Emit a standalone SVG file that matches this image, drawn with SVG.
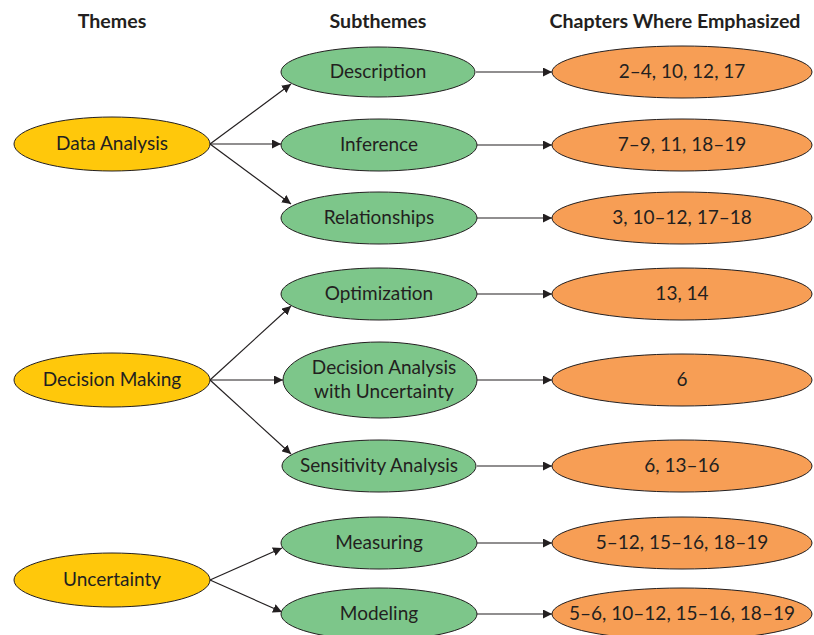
<svg xmlns="http://www.w3.org/2000/svg" width="814" height="635" viewBox="0 0 814 635">
<defs>
<marker id="ah" viewBox="0 0 10 10" refX="10" refY="5" markerWidth="9" markerHeight="9" markerUnits="userSpaceOnUse" orient="auto">
<path d="M0,0 L10,5 L0,10 z" fill="#231F20"/>
</marker>
<style>
.theme{fill:#FFC80B;stroke:#231F20;stroke-width:1}
.sub{fill:#7DC68A;stroke:#231F20;stroke-width:1}
.ch{fill:#F79E55;stroke:#231F20;stroke-width:1}
.t{font-family:Lato,"Open Sans",sans-serif;font-size:19px;fill:#231F20;text-anchor:middle}
.h{font-family:Lato,"Open Sans",sans-serif;font-size:19.6px;font-weight:bold;fill:#231F20;text-anchor:middle}
.c line{stroke:#231F20;stroke-width:1.2;marker-end:url(#ah)}
</style>
</defs>
<rect width="814" height="635" fill="#FFFFFF"/>
<g id="headers">
<text class="h" x="112" y="28">Themes</text>
<text class="h" x="378" y="28">Subthemes</text>
<text class="h" x="675" y="28">Chapters Where Emphasized</text>
</g>
<g class="c" id="connectors">
<line x1="210" y1="144" x2="291" y2="84"/>
<line x1="210" y1="144" x2="281" y2="144"/>
<line x1="210" y1="144" x2="291" y2="204"/>
<line x1="210" y1="380" x2="291" y2="306"/>
<line x1="210" y1="380" x2="283" y2="380"/>
<line x1="210" y1="380" x2="291" y2="454"/>
<line x1="210" y1="580" x2="282" y2="548"/>
<line x1="210" y1="580" x2="282" y2="612"/>
<line x1="476" y1="72" x2="552" y2="72"/>
<line x1="477" y1="145" x2="552" y2="145"/>
<line x1="477" y1="218" x2="552" y2="218"/>
<line x1="477" y1="294" x2="552" y2="294"/>
<line x1="477" y1="380" x2="552" y2="380"/>
<line x1="477" y1="466" x2="552" y2="466"/>
<line x1="477" y1="543" x2="552" y2="543"/>
<line x1="477" y1="614" x2="552" y2="614"/>
</g>
<g id="theme-data-analysis"><ellipse class="theme" cx="112" cy="144" rx="98" ry="27"/><text class="t" x="112" y="150">Data Analysis</text></g>
<g id="theme-decision-making"><ellipse class="theme" cx="112" cy="380" rx="98" ry="27"/><text class="t" x="112" y="386">Decision Making</text></g>
<g id="theme-uncertainty"><ellipse class="theme" cx="112" cy="580" rx="98" ry="27"/><text class="t" x="112" y="586">Uncertainty</text></g>
<g id="sub-description"><ellipse class="sub" cx="378" cy="72" rx="97" ry="25"/><text class="t" x="378" y="78">Description</text></g>
<g id="sub-inference"><ellipse class="sub" cx="379" cy="145" rx="98" ry="26"/><text class="t" x="379" y="151">Inference</text></g>
<g id="sub-relationships"><ellipse class="sub" cx="379" cy="218" rx="98" ry="26"/><text class="t" x="379" y="224">Relationships</text></g>
<g id="sub-optimization"><ellipse class="sub" cx="379" cy="294" rx="98" ry="26"/><text class="t" x="379" y="300">Optimization</text></g>
<g id="sub-decision-analysis"><ellipse class="sub" cx="380" cy="380" rx="97" ry="38"/><text class="t" x="384" y="374">Decision Analysis</text><text class="t" x="384" y="398">with Uncertainty</text></g>
<g id="sub-sensitivity"><ellipse class="sub" cx="379" cy="466" rx="97" ry="26"/><text class="t" x="379" y="472">Sensitivity Analysis</text></g>
<g id="sub-measuring"><ellipse class="sub" cx="379" cy="543" rx="98" ry="26"/><text class="t" x="379" y="549">Measuring</text></g>
<g id="sub-modeling"><ellipse class="sub" cx="379" cy="614" rx="98" ry="26"/><text class="t" x="379" y="620">Modeling</text></g>
<g id="ch-description"><ellipse class="ch" cx="682" cy="72" rx="130" ry="26"/><text class="t" x="682" y="78">2–4, 10, 12, 17</text></g>
<g id="ch-inference"><ellipse class="ch" cx="682" cy="145" rx="130" ry="26"/><text class="t" x="682" y="151">7–9, 11, 18–19</text></g>
<g id="ch-relationships"><ellipse class="ch" cx="682" cy="218" rx="130" ry="26"/><text class="t" x="682" y="224">3, 10–12, 17–18</text></g>
<g id="ch-optimization"><ellipse class="ch" cx="682" cy="294" rx="130" ry="26"/><text class="t" x="682" y="300">13, 14</text></g>
<g id="ch-decision-analysis"><ellipse class="ch" cx="682" cy="380" rx="130" ry="26"/><text class="t" x="682" y="386">6</text></g>
<g id="ch-sensitivity"><ellipse class="ch" cx="682" cy="466" rx="130" ry="26"/><text class="t" x="682" y="472">6, 13–16</text></g>
<g id="ch-measuring"><ellipse class="ch" cx="682" cy="543" rx="130" ry="26"/><text class="t" x="682" y="549">5–12, 15–16, 18–19</text></g>
<g id="ch-modeling"><ellipse class="ch" cx="682" cy="614" rx="130" ry="26"/><text class="t" x="682" y="620">5–6, 10–12, 15–16, 18–19</text></g>
</svg>
